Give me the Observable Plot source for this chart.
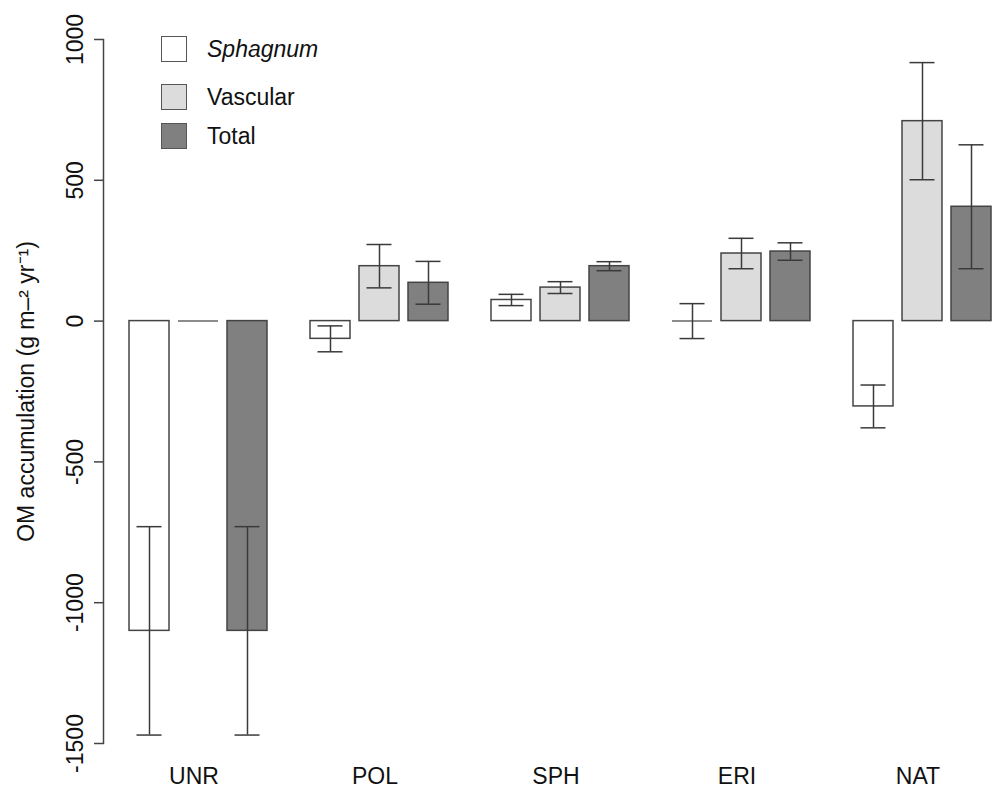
<!DOCTYPE html>
<html>
<head>
<meta charset="utf-8">
<script src="https://cdn.jsdelivr.net/npm/d3@7"></script>
<script src="https://cdn.jsdelivr.net/npm/@observablehq/plot@0.6"></script>
<style>
html, body { margin: 0; padding: 0; overflow: hidden; background: #fff; }
#wrap { position: relative; width: 993px; height: 788px; overflow: hidden; }
#wrap svg { max-width: none; }
.legend { position: absolute; left: 161px; top: 36px; font-family: "Liberation Sans", Arial, sans-serif; font-size: 23px; color: #111; }
.row { display: flex; align-items: center; height: 26px; }
.sw { width: 26px; height: 26px; box-sizing: border-box; border: 1.5px solid #555; margin-right: 20px; }
</style>
</head>
<body>
<div id="wrap"></div>
<script>
// ---- data ----
const categories = ["UNR", "POL", "SPH", "ERI", "NAT"];
const series = ["Sphagnum", "Vascular", "Total"];
const sphagnum    = [-1100, -63,  75,   0, -303];
const sphagnumErr = [  370,  46,  20,  62,   76];
const vascular    = [    0, 195, 119, 240,  710];
const vascularErr = [    0,  77,  21,  54,  208];
const total       = [-1100, 136, 195, 247,  406];
const totalErr    = [  370,  76,  16,  31,  220];
const yTicks = [-1500, -1000, -500, 0, 500, 1000];
const fills = ["#ffffff", "#dcdcdc", "#808080"];
const yLabel = "OM accumulation (g m\u2013\u00B2 yr\u207B\u00B9)";

const values = [sphagnum, vascular, total];
const errs = [sphagnumErr, vascularErr, totalErr];
const rows = categories.flatMap((c, i) => series.map((s, j) => ({
  group: c, series: s, value: values[j][i], err: errs[j][i]
})));
const errRows = rows.filter(d => d.err > 0);
const zeroRows = rows.filter(d => d.value === 0);

const font = "'Liberation Sans', Arial, Helvetica, sans-serif";
const ink = "#444";

const chart = Plot.plot({
  width: 1009,
  height: 788,
  marginLeft: 102,
  marginRight: 0,
  marginTop: 39,
  marginBottom: 45,
  style: { fontFamily: font, fontSize: "22px", color: "#111", background: "transparent" },
  fx: { domain: categories, padding: 0, axis: null, label: null },
  x: { domain: series, paddingInner: 0.175, paddingOuter: 0.408, align: 0.62, axis: null },
  y: { domain: [-1500, 1000], axis: null },
  color: { domain: series, range: fills },
  marks: [
    Plot.frame({ anchor: "left", facetAnchor: "left", stroke: ink, strokeWidth: 1.5 }),
    Plot.axisY({
      ticks: yTicks, tickSize: 9, tickRotate: -90, tickPadding: 12,
      tickFormat: d => String(d), stroke: ink, strokeWidth: 1.5,
      fontSize: 23, fill: "#111",
      label: yLabel, labelAnchor: "center", labelArrow: "none", labelOffset: 86
    }),
    Plot.axisFx({ anchor: "bottom", tickSize: 0, tickPadding: 24, fontSize: 23, fill: "#111", label: null }),
    Plot.barY(rows, { fx: "group", x: "series", y1: 0, y2: "value", fill: "series", stroke: ink, strokeWidth: 1.5 }),
    Plot.tickY(zeroRows, { fx: "group", x: "series", y: "value", stroke: "#666", strokeWidth: 1.5 }),
    Plot.ruleX(errRows, { fx: "group", x: "series", y1: d => d.value - d.err, y2: d => d.value + d.err, stroke: "#3a3a3a", strokeWidth: 1.5 }),
    Plot.tickY(errRows, { fx: "group", x: "series", y: d => d.value - d.err, insetLeft: 7.5, insetRight: 7.5, stroke: "#3a3a3a", strokeWidth: 1.5 }),
    Plot.tickY(errRows, { fx: "group", x: "series", y: d => d.value + d.err, insetLeft: 7.5, insetRight: 7.5, stroke: "#3a3a3a", strokeWidth: 1.5 })
  ]
});

const wrap = document.getElementById("wrap");
wrap.appendChild(chart);

// legend (inside the plot area, as in the reference)
const legend = document.createElement("div");
legend.className = "legend";
const gaps = [22, 13, 0];
series.forEach((s, j) => {
  const row = document.createElement("div");
  row.className = "row";
  row.style.marginBottom = gaps[j] + "px";
  const sw = document.createElement("div");
  sw.className = "sw";
  sw.style.background = fills[j];
  const lab = document.createElement("span");
  lab.textContent = s;
  if (s === "Sphagnum") lab.style.fontStyle = "italic";
  row.appendChild(sw);
  row.appendChild(lab);
  legend.appendChild(row);
});
wrap.appendChild(legend);
</script>
</body>
</html>
